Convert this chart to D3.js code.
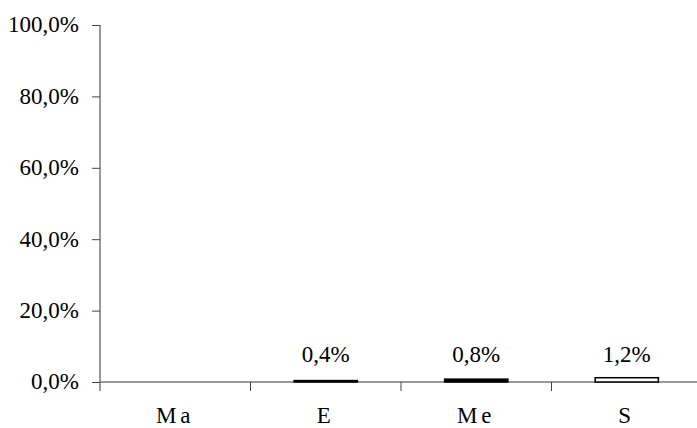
<!DOCTYPE html>
<html><head><meta charset="utf-8">
<script src="https://cdn.jsdelivr.net/npm/d3@7"></script>
<style>body{margin:0;background:#fff}svg{display:block}text{font-family:"Liberation Serif","Times New Roman",serif;fill:#000}</style>
</head><body>
<svg id="c" width="697" height="428"></svg>
<script>
const categories = ["Ma", "E", "Me", "S"];
const values = [null, 0.004, 0.008, 0.012];
const valueLabels = ["", "0,4%", "0,8%", "1,2%"];
const barFills = ["#000", "#000", "#000", "#fff"];
const yTicks = [0, 0.2, 0.4, 0.6, 0.8, 1.0];

const svg = d3.select("#c");
const x = d3.scaleBand().domain(categories).range([100, 702]).paddingInner(0.58).paddingOuter(0.29);
const xb = d3.scaleBand().domain(categories).range([100, 702]);
const y = d3.scaleLinear().domain([0, 1]).range([382, 25]);
const fmt = v => d3.format(".1f")(v * 100).replace(".", ",") + "%";

// y axis
const ya = svg.append("g").attr("transform", "translate(100,0)")
  .call(d3.axisLeft(y).tickValues(yTicks).tickFormat(fmt).tickSize(8).tickPadding(13));
ya.select(".domain").attr("d", `M0,${y(1)}V${y(0) + 9}`).attr("stroke", "#777").attr("stroke-width", 1.5);
ya.selectAll(".tick line").attr("stroke", "#444").attr("stroke-width", 1);
ya.selectAll(".tick text").attr("font-size", 23).attr("font-family", "Liberation Serif").attr("fill", "#000").attr("dy", "0.3em");

// x axis line & ticks
svg.append("line").attr("x1", 100).attr("x2", 702).attr("y1", y(0)).attr("y2", y(0)).attr("stroke", "#777").attr("stroke-width", 1.5);
svg.selectAll(".xt").data(categories.slice(1)).enter().append("line")
  .attr("x1", d => xb(d)).attr("x2", d => xb(d)).attr("y1", y(0)).attr("y2", y(0) + 9)
  .attr("stroke", "#444").attr("stroke-width", 1);
svg.selectAll(".xl").data(categories).enter().append("text")
  .attr("x", d => xb(d) + xb.bandwidth() / 2).attr("y", 423)
  .attr("text-anchor", "middle").attr("font-size", 23).attr("letter-spacing", 4)
  .text(d => d);

// bars
const bd = categories.map((c, i) => ({c, v: values[i], l: valueLabels[i], f: barFills[i]})).filter(d => d.v != null);
svg.selectAll(".bar").data(bd).enter().append("rect")
  .attr("x", d => x(d.c)).attr("width", x.bandwidth())
  .attr("y", d => y(d.v)).attr("height", d => y(0) - y(d.v))
  .attr("fill", d => d.f).attr("stroke", "#000").attr("stroke-width", 1.5);
svg.selectAll(".vl").data(bd).enter().append("text")
  .attr("x", d => x(d.c) + x.bandwidth() / 2).attr("y", 362)
  .attr("text-anchor", "middle").attr("font-size", 23)
  .text(d => d.l);
</script>
</body></html>
